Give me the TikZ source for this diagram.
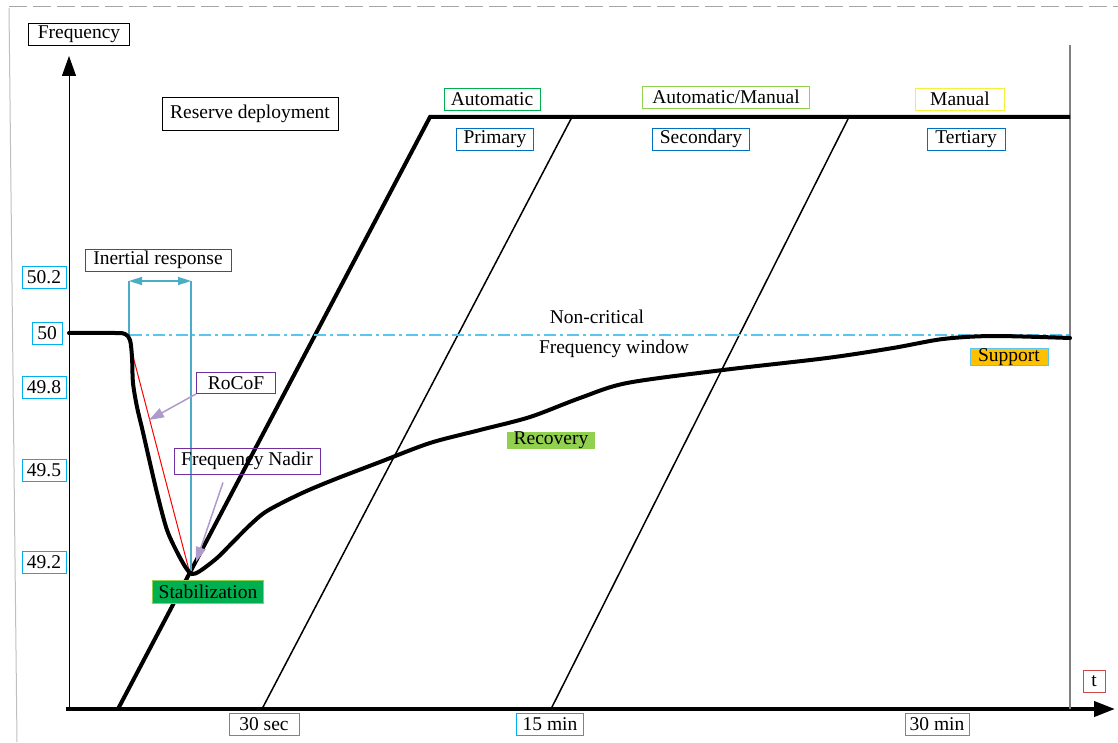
\documentclass[tikz,border=0pt]{standalone}
\usepackage{fontspec}
\setmainfont{Liberation Serif}
\usetikzlibrary{arrows.meta}

\definecolor{autogreen}{HTML}{00B050}
\definecolor{lightgreen}{HTML}{92D050}
\definecolor{manyellow}{HTML}{F2F23A}
\definecolor{resblue}{HTML}{0070C0}
\definecolor{tickcyan}{HTML}{00B0F0}
\definecolor{tred}{HTML}{D04848}
\definecolor{notepurple}{HTML}{7030A0}
\definecolor{lavender}{HTML}{AE9BCB}
\definecolor{spancyan}{HTML}{4BACC6}
\definecolor{windowcyan}{HTML}{5BC5EE}
\definecolor{supportorange}{HTML}{FFC000}

\begin{document}
\begin{tikzpicture}[x=1pt,y=-1pt,font=\fontsize{19.5}{22}\selectfont,
  box/.style={draw,inner sep=0pt,minimum height=22pt,line width=0.9pt},
  heavy/.style={line width=4pt},
  light/.style={line width=1.5pt},
  pointer/.style={lavender,line width=1.5pt,-{Triangle[length=15pt,width=10pt]}}]

\useasboundingbox (0,0) rectangle (1118,743);

% frame
\draw[gray!70,line width=1pt,dash pattern=on 18pt off 6pt] (9,7) -- (1118,7);
\draw[gray!50,line width=1pt] (9,8) -- (17,742);

% axes
\coordinate (origin) at (69,709);
\coordinate (ytip) at (69,56);
\coordinate (xstart) at (66,709);
\coordinate (xtip) at (1115,709);
\coordinate (rtop) at (1070,45);
\coordinate (rbot) at (1070,709);
\draw[line width=1pt,-{Triangle[length=20pt,width=14pt]}] (origin) -- (ytip);
\draw[heavy,-{Triangle[length=21pt,width=15pt]}] (xstart) -- (xtip);
\draw[gray,light] (rtop) -- (rbot);

\node[box,minimum width=101pt] (freq) at (79,34) {Frequency};
\node[box,draw=tred,minimum width=22pt] (tlab) at (1094,681) {t};

% frequency marks
\begin{scope}[every node/.style={box,draw=tickcyan,minimum width=44pt}]
\node (f502) at (44,277) {50.2};
\node[minimum width=30pt] (f50) at (47,333) {50};
\node (f498) at (44,387) {49.8};
\node (f495) at (44,470) {49.5};
\node (f492) at (44,562) {49.2};
\node[minimum width=70pt] (t30s) at (264,724) {30 sec};
\node[minimum width=67pt] (t15m) at (550,724) {15 min};
\node[minimum width=64pt] (t30m) at (937,724) {30 min};
\end{scope}

% reserves
\coordinate (pa) at (118,709);
\coordinate (pb) at (430,117);
\coordinate (pc) at (1070,117);
\coordinate (sa) at (262,709);
\coordinate (sb) at (572,117);
\coordinate (ta) at (551,709);
\coordinate (tb) at (849,117);
\draw[heavy] (pa) -- (pb) -- (pc);
\draw[light] (sa) -- (sb);
\draw[light] (ta) -- (tb);

\node[box,minimum width=176pt,minimum height=33pt] (reserve) at (250,114) {Reserve deployment};
\node[box,draw=autogreen,minimum width=96pt] (auto) at (492,99) {Automatic};
\node[box,draw=lightgreen,minimum width=167pt] (automan) at (726,97) {Automatic/Manual};
\node[box,draw=manyellow,minimum width=89pt] (manual) at (960,99) {Manual};
\node[box,draw=resblue,minimum width=77pt] (prim) at (495,139) {Primary};
\node[box,draw=resblue,minimum width=97pt] (sec) at (701,139) {Secondary};
\node[box,draw=resblue,minimum width=78pt] (tert) at (966,139) {Tertiary};

% non-critical window
\coordinate (wa) at (130,335);
\coordinate (wb) at (1070,335);
\draw[windowcyan,light,dash pattern=on 12pt off 4pt on 3pt off 4pt] (wa) -- (wb);
\node (noncrit) at (597,317) {Non-critical};
\node (window) at (614,349) {Frequency window};

% inertial response span
\coordinate (ia) at (129,281);
\coordinate (ib) at (191,281);
\coordinate (ic) at (129,335);
\coordinate (id) at (191,571);
\draw[spancyan,light] (ia) -- (ic);
\draw[spancyan,light] (ib) -- (id);
\draw[spancyan,light,{Triangle[length=13pt,width=8pt]}-{Triangle[length=13pt,width=8pt]}] (ia) -- (ib);
\node[box,draw=notepurple,minimum width=146pt] (inertial) at (158,260) {Inertial response};

% rocof
\coordinate (ra) at (128,337);
\coordinate (rb) at (189,570);
\draw[red,line width=1pt] (ra) -- (rb);

% frequency
\draw[heavy,line cap=round] plot[smooth,tension=0.5] coordinates {
  (69,333) (115,333) (125,334) (130,340) (132,357) (133,383) (137,407)
  (142,428) (150,463) (158,497) (167,530) (177,552) (186,568) (192,574)
  (200,571) (217,558) (233,542) (250,525) (267,511) (300,494) (333,480)
  (380,462) (430,443) (480,430) (530,417) (580,398) (627,383) (723,370)
  (827,358) (893,348) (943,339) (993,336) (1070,338)};

\node[box,draw=notepurple,minimum width=79pt,minimum height=21pt] (rocof) at (236,383) {RoCoF};
\node[box,draw=notepurple,minimum width=146pt,minimum height=26pt] (nadir) at (247,461) {Frequency Nadir};
\coordinate (rocofpt) at (149,420);
\coordinate (nadirpt) at (196,562);
\draw[pointer] (rocof.south west) -- (rocofpt);
\draw[pointer] ([xshift=-24pt,yshift=-8pt]nadir.south) -- (nadirpt);

% stages
\node[box,draw=lightgreen,fill=autogreen,minimum width=111pt,minimum height=23pt] (stab) at (208,592) {Stabilization};
\node[box,draw=none,fill=lightgreen,minimum width=88pt,minimum height=17pt] (recov) at (551,440) {Recovery};
\node[box,draw=windowcyan,fill=supportorange,minimum width=78pt,minimum height=17pt] (support) at (1009,357) {Support};

\end{tikzpicture}
\end{document}
